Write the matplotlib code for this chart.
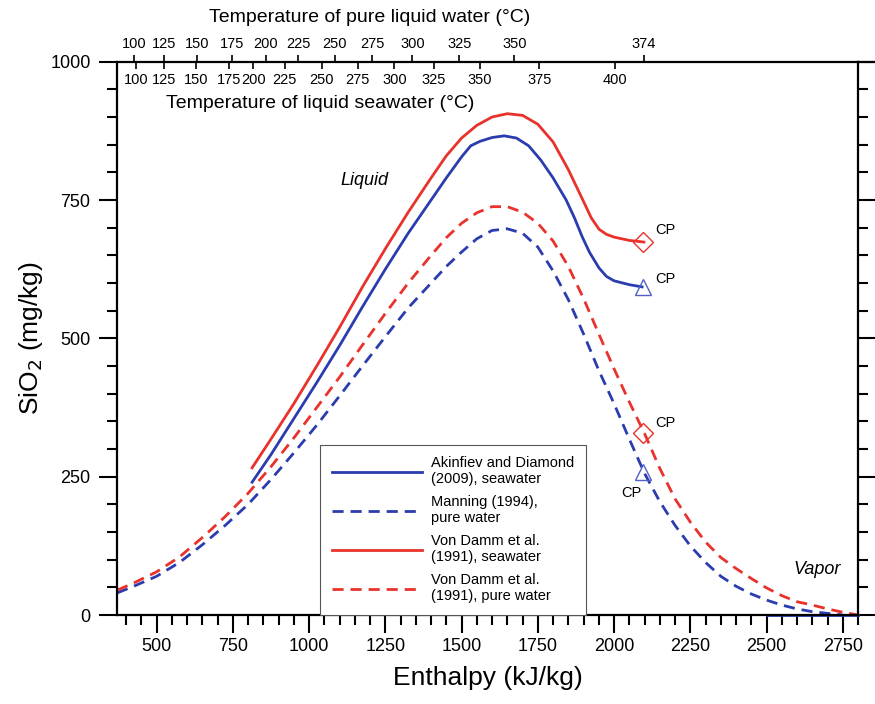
import numpy as np
import matplotlib.pyplot as plt
from matplotlib.lines import Line2D
from matplotlib.ticker import MultipleLocator

plt.rcParams['font.family'] = ['Liberation Sans', 'DejaVu Sans']

# enthalpy (kJ/kg) vs dissolved SiO2 (mg/kg)
h_akin = [813, 875, 950, 1025, 1100, 1175, 1250, 1325, 1400, 1450, 1500, 1530, 1560, 1600, 1640,
          1680, 1720, 1760, 1800, 1843, 1870, 1896, 1920, 1951, 1975, 2000, 2050, 2092]
si_akin = [240, 290, 355, 420, 487, 557, 625, 690, 750, 790, 828, 848, 856, 863, 866,
           862, 848, 822, 790, 750, 718, 683, 655, 627, 612, 604, 597, 593]
h_akin_vap = [2500, 2650, 2800]
si_akin_vap = [0, 0, 0]

h_mann = [371, 425, 500, 575, 650, 725, 800, 875, 950, 1025, 1100, 1175, 1250, 1325, 1400, 1450,
          1500, 1550, 1600, 1650, 1700, 1750, 1800, 1850, 1900, 1950, 2000, 2050, 2100, 2150,
          2200, 2250, 2300, 2350, 2400, 2450, 2500, 2550, 2600, 2650, 2700, 2750]
si_mann = [40, 52, 70, 95, 127, 162, 200, 245, 293, 343, 396, 450, 503, 555, 600, 630,
           656, 680, 695, 698, 690, 665, 622, 570, 508, 442, 382, 318, 256, 205,
           162, 125, 95, 70, 52, 38, 27, 18, 11, 6, 3, 0]

h_vd_sw = [813, 875, 950, 1025, 1100, 1175, 1250, 1325, 1400, 1450, 1500, 1550, 1600, 1650,
           1700, 1750, 1800, 1850, 1896, 1925, 1951, 1975, 2000, 2050, 2098]
si_vd_sw = [266, 318, 382, 450, 520, 593, 662, 728, 790, 830, 862, 885, 900, 906,
            903, 887, 855, 805, 752, 718, 697, 688, 683, 677, 674]

h_vd_pw = [371, 425, 500, 575, 650, 725, 800, 875, 950, 1025, 1100, 1175, 1250, 1325, 1400, 1450,
           1500, 1550, 1600, 1650, 1700, 1750, 1800, 1850, 1900, 1950, 2000, 2050, 2100, 2150,
           2200, 2250, 2300, 2350, 2400, 2450, 2500, 2550, 2600, 2650, 2700, 2750, 2800]
si_vd_pw = [45, 58, 78, 105, 140, 178, 220, 268, 320, 375, 430, 488, 545, 600, 650, 682,
            708, 727, 738, 738, 728, 708, 676, 630, 572, 508, 445, 385, 328, 265,
            210, 168, 132, 104, 84, 66, 49, 35, 24, 18, 11, 5, 0]

# critical points
cp_sw_h, cp_sw_akin, cp_sw_vd = 2095, 593, 674
cp_pw_h, cp_pw_mann, cp_pw_vd = 2095, 258, 329

# temperature scales (degC) placed at liquid enthalpy positions
t_pure = [100, 125, 150, 175, 200, 225, 250, 275, 300, 325, 350, 374]
h_pure = [425, 525, 632, 746, 858, 965, 1084, 1207, 1339, 1493, 1673, 2098]
t_sea = [100, 125, 150, 175, 200, 225, 250, 275, 300, 325, 350, 375, 400]
h_sea = [433, 525, 630, 738, 817, 920, 1041, 1160, 1280, 1408, 1561, 1755, 2003]

blue = '#2a3cae'
red = '#e8322b'

fig = plt.figure(figsize=(8.75, 7.04), dpi=100)
ax = fig.add_axes([117/875, 1 - 615/704, 741/875, 553.3/704])

ax.plot(h_akin, si_akin, color=blue, lw=2, label='Akinfiev and Diamond\n(2009), seawater')
ax.plot(h_mann, si_mann, color=blue, lw=2, ls=(0, (4, 2.5)), label='Manning (1994),\npure water')
ax.plot(h_vd_sw, si_vd_sw, color=red, lw=2, label='Von Damm et al.\n(1991), seawater')
ax.plot(h_vd_pw, si_vd_pw, color=red, lw=2, ls=(0, (4, 2.5)), label='Von Damm et al.\n(1991), pure water')
ax.plot(h_akin_vap, si_akin_vap, color=blue, lw=2, clip_on=False)

ax.plot([cp_sw_h], [cp_sw_vd], 'D', ms=10.5, mfc='none', mec=red, mew=1)
ax.plot([cp_pw_h], [cp_pw_vd], 'D', ms=10.5, mfc='none', mec=red, mew=1)
ax.plot([cp_sw_h], [cp_sw_akin], '^', ms=12, mfc='none', mec='#5060c8', mew=1)
ax.plot([cp_pw_h], [cp_pw_mann], '^', ms=12, mfc='none', mec='#5060c8', mew=1)

ax.annotate('CP', (cp_sw_h, cp_sw_vd), xytext=(9, 6), textcoords='offset points', fontsize=10.5)
ax.annotate('CP', (cp_sw_h, cp_sw_akin), xytext=(9, 3), textcoords='offset points', fontsize=10.5)
ax.annotate('CP', (cp_pw_h, cp_pw_vd), xytext=(9, 4), textcoords='offset points', fontsize=10.5)
ax.annotate('CP', (cp_pw_h, cp_pw_mann), xytext=(-16, -18), textcoords='offset points', fontsize=10.5)

ax.text(1183, 785, 'Liquid', style='italic', fontsize=13, ha='center', va='center')
ax.text(2665, 83, 'Vapor', style='italic', fontsize=13, ha='center', va='center')

ax.set_xlim(370, 2800)
ax.set_ylim(0, 1000)
ax.xaxis.set_major_locator(MultipleLocator(250))
ax.xaxis.set_minor_locator(MultipleLocator(50))
ax.yaxis.set_major_locator(MultipleLocator(250))
ax.yaxis.set_minor_locator(MultipleLocator(50))
ax.tick_params(which='both', direction='out', width=1.5, right=True, top=False, labelsize=13)
ax.tick_params(which='major', length=13)
ax.tick_params(which='minor', length=7)
ax.tick_params(axis='y', pad=6)
for s in ax.spines.values():
    s.set_linewidth(1.6)

ax.set_xlabel('Enthalpy (kJ/kg)', fontsize=19, labelpad=8)
ax.set_ylabel('SiO$_2$ (mg/kg)', fontsize=19, labelpad=4)

# pure water temperature scale (above the frame)
top = ax.secondary_xaxis('top')
top.set_xticks(h_pure, [str(t) for t in t_pure])
top.tick_params(direction='out', length=5, width=1.2, labelsize=10.5, pad=3)
top.spines['top'].set_visible(False)
fig.text(370/875, 1 - 17/704, 'Temperature of pure liquid water (°C)', fontsize=14,
         ha='center', va='center')

# seawater temperature scale (inside the frame)
sea = ax.secondary_xaxis('top')
sea.set_xticks(h_sea, [str(t) for t in t_sea])
sea.tick_params(direction='in', length=5, width=1.2, labelsize=10.5, pad=-18)
sea.spines['top'].set_visible(False)
ax.text(0.274, 0.925, 'Temperature of liquid seawater (°C)', transform=ax.transAxes,
        fontsize=14, ha='center', va='center')

# top rule continues past the right edge
ytop = 1 - 61.7/704
fig.add_artist(Line2D([858/875, 1.0], [ytop, ytop], color='black', lw=1.6))

leg = ax.legend(loc='lower left', bbox_to_anchor=(0.274, 0.0), borderaxespad=0,
                fontsize=10.5, handlelength=6.2, labelspacing=0.6, handletextpad=0.6,
                fancybox=False, framealpha=1, borderpad=0.8)
leg.get_frame().set_edgecolor('#555555')
leg.get_frame().set_linewidth(0.8)

fig.savefig('out.png', dpi=100)
